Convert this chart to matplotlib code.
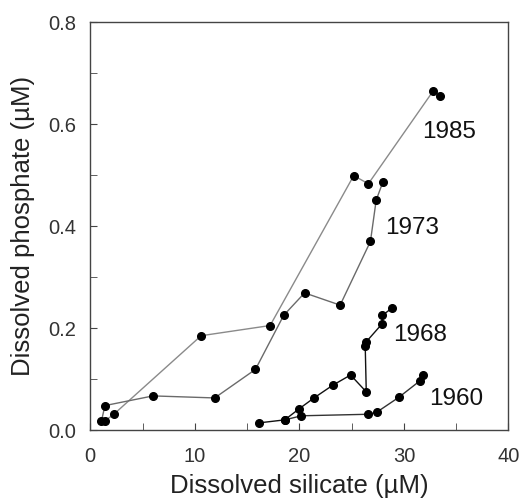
import numpy as np
import matplotlib.pyplot as plt
from matplotlib.ticker import MultipleLocator

plt.rcParams['font.family'] = ['Liberation Sans', 'DejaVu Sans']

# silicate (uM) / phosphate (uM) per survey year
si_1985 = [1.4, 2.25, 10.6, 17.2, 25.2, 26.6, 32.8, 33.5]
po_1985 = [0.018, 0.031, 0.185, 0.205, 0.499, 0.483, 0.665, 0.656]

si_1973 = [1.07, 1.4, 6.0, 11.9, 15.8, 18.5, 20.5, 23.9, 26.8, 27.35, 28.0]
po_1973 = [0.018, 0.048, 0.067, 0.063, 0.119, 0.225, 0.269, 0.245, 0.37, 0.451, 0.487]

si_1968 = [16.1, 18.6, 20.0, 21.4, 23.2, 24.9, 26.4, 26.3, 26.35, 27.9, 27.95, 28.9]
po_1968 = [0.014, 0.02, 0.042, 0.063, 0.088, 0.108, 0.075, 0.165, 0.172, 0.208, 0.225, 0.24]

si_1960 = [18.6, 20.2, 26.6, 27.4, 29.5, 31.5, 31.8]
po_1960 = [0.02, 0.028, 0.031, 0.035, 0.064, 0.096, 0.108]

labels = ['1985', '1973', '1968', '1960']
label_pos = [(34.3, 0.584), (30.8, 0.396), (31.5, 0.186), (35.0, 0.061)]

fig = plt.figure(figsize=(5.22, 5.03), dpi=100)
ax = fig.add_axes([0.173, 0.145, 0.801, 0.811])

series = [(si_1985, po_1985, '#8a8a8a'), (si_1973, po_1973, '#6a6a6a'),
          (si_1968, po_1968, '#111111'), (si_1960, po_1960, '#333333')]
for x, y, c in series:
    ax.plot(x, y, '-', color=c, lw=1.0)
    ax.plot(x, y, 'o', color='black', ms=5.5, mec='black')

for lab, (lx, ly) in zip(labels, label_pos):
    ax.text(lx, ly, lab, fontsize=17.5, ha='center', va='center', color='#111111')

ax.set_xlim(0, 40)
ax.set_ylim(0, 0.8)
ax.xaxis.set_major_locator(MultipleLocator(10))
ax.xaxis.set_minor_locator(MultipleLocator(5))
ax.yaxis.set_major_locator(MultipleLocator(0.2))
ax.yaxis.set_minor_locator(MultipleLocator(0.1))
ax.yaxis.set_major_formatter(plt.FormatStrFormatter('%.1f'))
ax.tick_params(which='both', direction='in', length=5, labelsize=14.5,
               color='#444444', labelcolor='#333333')
ax.tick_params(axis='x', pad=12)
ax.tick_params(axis='y', pad=10)
for s in ax.spines.values():
    s.set_linewidth(1.0)
    s.set_color('#444444')

ax.set_xlabel('Dissolved silicate (µM)', fontsize=18.5, labelpad=6, color='#222222')
ax.set_ylabel('Dissolved phosphate (µM)', fontsize=18.5, labelpad=10, color='#222222')

fig.savefig('out.png', dpi=100)
